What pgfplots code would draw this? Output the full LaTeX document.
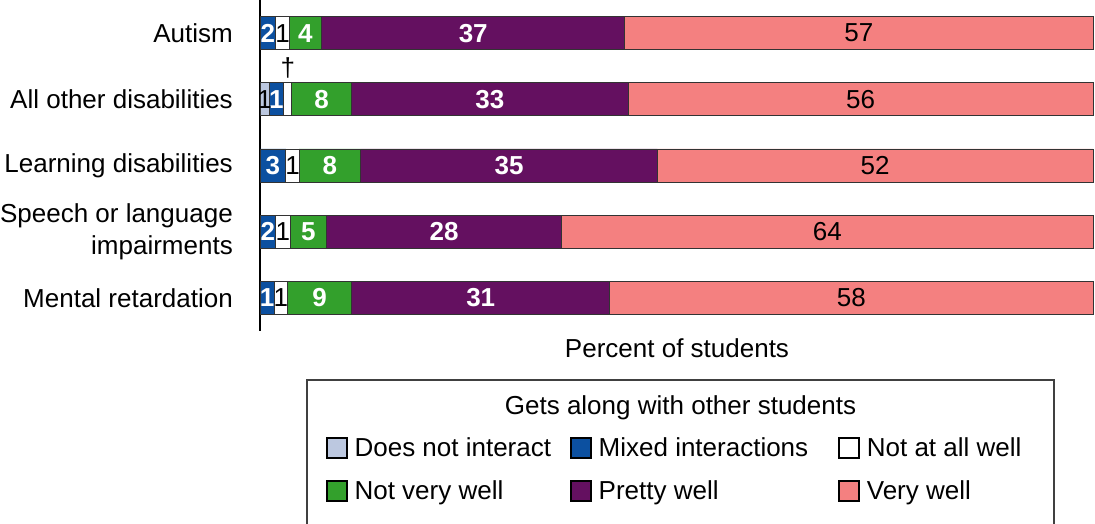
\documentclass[border=0pt]{standalone}
\usepackage{fontspec}
\setmainfont{Liberation Sans}
\usepackage{pgfplots}
\pgfplotsset{compat=1.18}
\usepackage{pgfplotstable}

\definecolor{cgrey}{RGB}{188,200,224}
\definecolor{cblue}{RGB}{12,80,160}
\definecolor{cgreen}{RGB}{51,160,44}
\definecolor{cpurple}{RGB}{100,16,96}
\definecolor{cpink}{RGB}{244,128,128}

% rows: 0 Mental retardation, 1 Speech, 2 Learning, 3 All other, 4 Autism
\pgfplotstableread{
y w lab
0 0 {}
1 0 {}
2 0 {}
3 1.1 1
4 0 {}
}\tgrey
\pgfplotstableread{
y w lab
0 1.7 1
1 1.9 2
2 3.1 3
3 1.7 1
4 1.9 2
}\tblue
\pgfplotstableread{
y w lab
0 1.6 1
1 1.7 1
2 1.6 1
3 1.0 {}
4 1.6 1
}\twhite
\pgfplotstableread{
y w lab
0 7.7 9
1 4.4 5
2 7.4 8
3 7.2 8
4 3.9 4
}\tgreen
\pgfplotstableread{
y w lab
0 31.0 31
1 28.2 28
2 35.6 35
3 33.2 33
4 36.4 37
}\tpurple
\pgfplotstableread{
y w lab
0 58.0 58
1 63.8 64
2 52.3 52
3 55.8 56
4 56.2 57
}\tpink

\pgfplotsset{
  sq/.style={legend image code/.code={\draw[##1, draw=black, line width=1.6pt] (0pt,-10pt) rectangle (20pt,10pt);}},
  wlab/.style={every node near coord/.append style={text=white, font=\fontsize{26}{31.5}\selectfont\bfseries}},
  blab/.style={every node near coord/.append style={text=black}},
}

\begin{document}
\fontsize{26}{31.5}\selectfont
\begin{tikzpicture}
\useasboundingbox (0pt,0pt) rectangle (1095pt,524pt);
\begin{axis}[
  at={(260pt,193pt)}, anchor=south west,
  scale only axis, width=833pt, height=331pt,
  xbar stacked, bar width=33pt,
  xmin=0, xmax=100, ymin=-0.5, ymax=4.5,
  axis x line=none,
  axis y line*=left,
  axis line style={-, line width=2pt, black},
  xtick=\empty,
  ytick={0,1,2,3,4},
  yticklabels={Mental retardation, {Speech or language\\impairments}, Learning disabilities, All other disabilities, Autism},
  yticklabel style={align=right, inner sep=0pt, anchor=east, xshift=-27pt},
  major tick length=0pt,
  clip=false,
  every axis plot/.append style={draw=black!80, line width=0.9pt},
  point meta=explicit symbolic,
  nodes near coords={\pgfplotspointmeta},
  every node near coord/.append style={anchor=center, inner sep=0pt},
  legend columns=3,
  legend cell align=left,
  legend style={draw=none, fill=none, inner sep=0pt, outer sep=0pt,
    at={(axis description cs:0.0792,-0.3215)}, anchor=north west,
    row sep=21pt, column sep=7pt,
    nodes={inner sep=0pt, text height=18.6pt, text depth=2pt},
    /tikz/column 2/.style={column sep=19pt},
    /tikz/column 4/.style={column sep=30pt}},
]
\addplot[fill=cgrey, sq, blab] table[x=w, y=y, meta=lab] {\tgrey};
\addlegendentry{Does not interact}
\addplot[fill=cblue, sq, wlab] table[x=w, y=y, meta=lab] {\tblue};
\addlegendentry{Mixed interactions}
\addplot[fill=white, sq, blab] table[x=w, y=y, meta=lab] {\twhite};
\addlegendentry{Not at all well}
\addplot[fill=cgreen, sq, wlab] table[x=w, y=y, meta=lab] {\tgreen};
\addlegendentry{Not very well}
\addplot[fill=cpurple, sq, wlab] table[x=w, y=y, meta=lab] {\tpurple};
\addlegendentry{Pretty well}
\addplot[fill=cpink, sq, blab] table[x=w, y=y, meta=lab] {\tpink};
\addlegendentry{Very well}
\node at (axis cs:3.33,3.48) {†};
\end{axis}
\node[anchor=base] at (677pt,166.3pt) {Percent of students};
\draw[black!75, line width=1.5pt] (307pt,-5pt) rectangle (1054pt,144pt);
\node[anchor=base] at (680.5pt,109pt) {Gets along with other students};
\end{tikzpicture}
\end{document}
